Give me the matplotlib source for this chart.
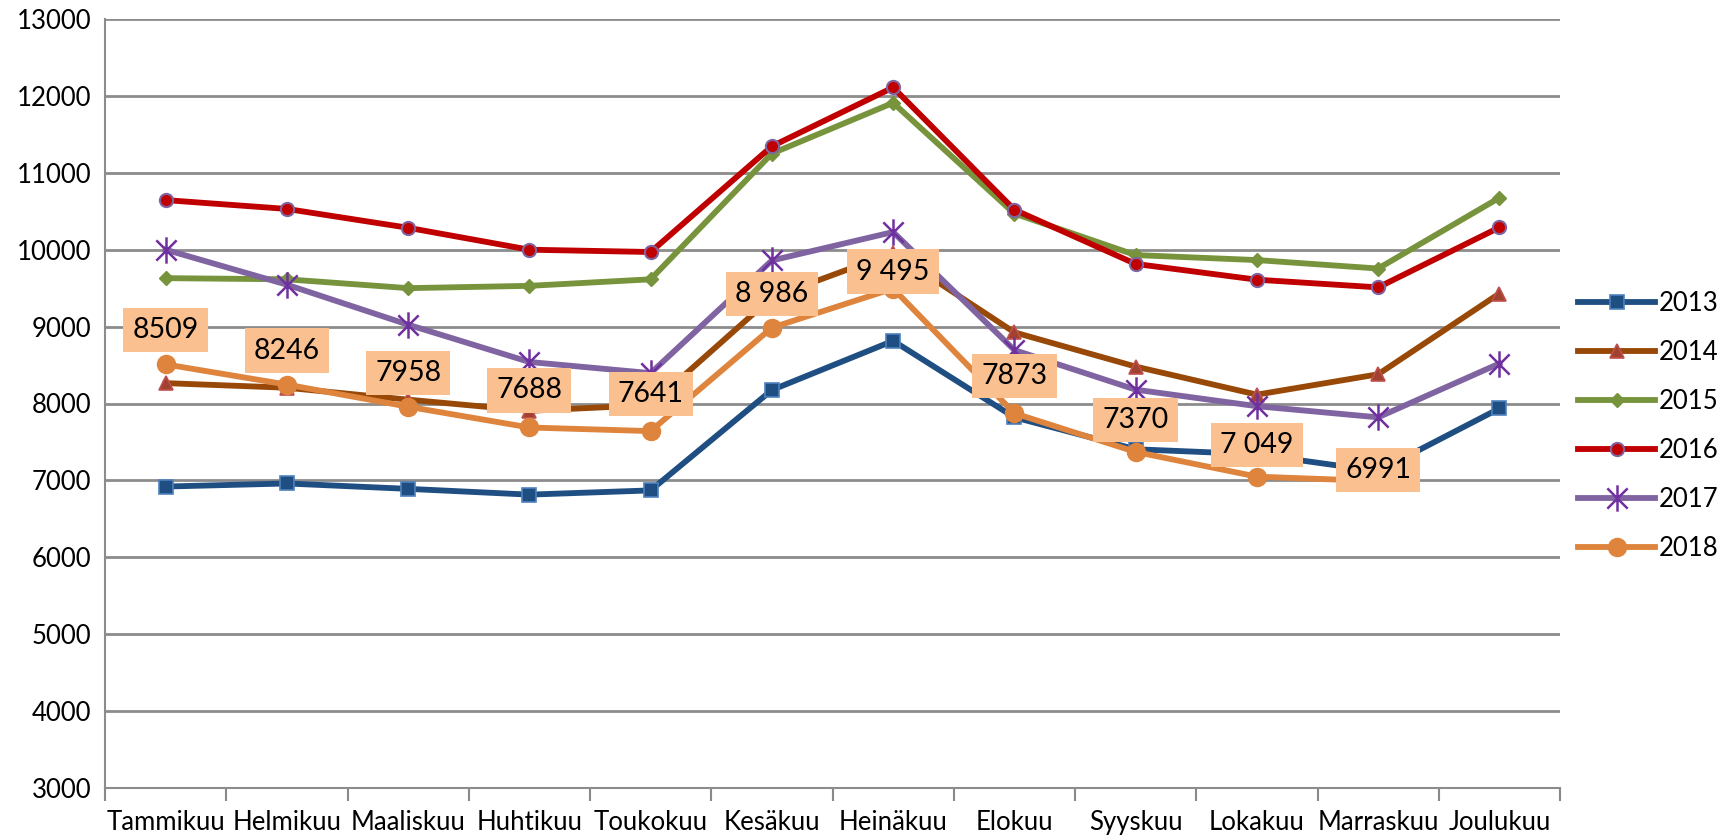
import numpy as np
import matplotlib; matplotlib.use('Agg')
import matplotlib.pyplot as plt
from matplotlib.path import Path

plt.rcParams['font.family'] = ['Lato', 'DejaVu Sans']

months = ['Tammikuu', 'Helmikuu', 'Maaliskuu', 'Huhtikuu', 'Toukokuu', 'Kesäkuu',
          'Heinäkuu', 'Elokuu', 'Syyskuu', 'Lokakuu', 'Marraskuu', 'Joulukuu']
y2013 = [6920, 6960, 6890, 6815, 6870, 8175, 8815, 7820, 7405, 7340, 7120, 7935]
y2014 = [8265, 8205, 8050, 7905, 7980, 9380, 9960, 8925, 8480, 8115, 8380, 9430]
y2015 = [9630, 9615, 9500, 9530, 9615, 11250, 11910, 10470, 9930, 9865, 9755, 10675]
y2016 = [10645, 10530, 10285, 10000, 9970, 11345, 12110, 10520, 9815, 9610, 9510, 10290]
y2017 = [10000, 9545, 9025, 8540, 8395, 9860, 10230, 8695, 8180, 7965, 7820, 8520]
y2018 = [8509, 8246, 7958, 7688, 7641, 8986, 9495, 7873, 7370, 7049, 6991]
labels2018 = ['8509', '8246', '7958', '7688', '7641', '8 986', '9 495', '7873', '7370', '7 049', '6991']
# label offsets above the point, in pixels
lab_off = [34, 34, 34, 37, 37, 34, 17, 37, 32, 32, 11]

star = Path([(-1, -1), (1, 1), (-1, 1), (1, -1), (0, -1.3), (0, 1.3)],
            [Path.MOVETO, Path.LINETO, Path.MOVETO, Path.LINETO, Path.MOVETO, Path.LINETO])

fig = plt.figure(figsize=(17.31, 8.36), dpi=100)
ax = fig.add_axes([105/1731, 48/836, 1455/1731, 769/836])
x = np.arange(12)
lw = 4.2
ax.plot(x, y2013, '-', color='#1F4E82', lw=lw, marker='s', ms=9.5, mfc='#1F4E82', mec='#4F81BD', mew=1.2, label='2013', zorder=3)
ax.plot(x, y2014, '-', color='#984807', lw=lw, marker='^', ms=10, mfc='#A0422F', mec='#C0504D', mew=1.2, label='2014', zorder=3)
ax.plot(x, y2015, '-', color='#77933C', lw=lw, marker='D', ms=7.5, mfc='#77933C', mec='#77933C', label='2015', zorder=3)
ax.plot(x, y2016, '-', color='#C00000', lw=lw, marker='o', ms=9.5, mfc='#C00000', mec='#8064A2', mew=1.5, label='2016', zorder=3)
ax.plot(x, y2017, '-', color='#8064A2', lw=lw, marker=star, ms=19, mfc='none', mec='#7030A0', mew=1.8, label='2017', zorder=3)
ax.plot(x[:len(y2018)], y2018, '-', color='#DF843C', lw=lw, marker='o', ms=13, mfc='#DF843C', mec='#DF843C', label='2018', zorder=3)

for xi, yi, t, off in zip(x, y2018, labels2018, lab_off):
    ax.annotate(t, (xi, yi), xytext=(0, off), textcoords='offset pixels', ha='center', va='center',
                fontsize=20.5, zorder=5,
                bbox=dict(boxstyle='square,pad=0.32', fc='#FAC090', ec='none'))

ax.set_xlim(-0.5, 11.5)
ax.set_ylim(3000, 13000)
ax.set_yticks(range(3000, 13001, 1000))
ax.set_xticks(x)
ax.set_xticklabels(months, fontsize=18.5)
ax.set_xticks(np.arange(-0.5, 12, 1), minor=True)
ax.tick_params(axis='x', which='major', length=0, pad=16)
ax.tick_params(axis='x', which='minor', length=9, width=1.5, color='#898989')
ax.tick_params(axis='y', length=0, labelsize=18.5, pad=10)
ax.grid(axis='y', color='#8C8C8C', lw=2)
ax.set_axisbelow(True)
for s in ['top', 'right']:
    ax.spines[s].set_visible(False)
for s in ['left', 'bottom']:
    ax.spines[s].set_color('#8C8C8C')
    ax.spines[s].set_linewidth(1.5)

fig.legend(loc='center left', bbox_to_anchor=(1568/1731, 410/836), frameon=False, fontsize=18.5,
           handlelength=3.0, handletextpad=0.15, labelspacing=0.93, borderaxespad=0)
fig.savefig('out.png', dpi=100)
